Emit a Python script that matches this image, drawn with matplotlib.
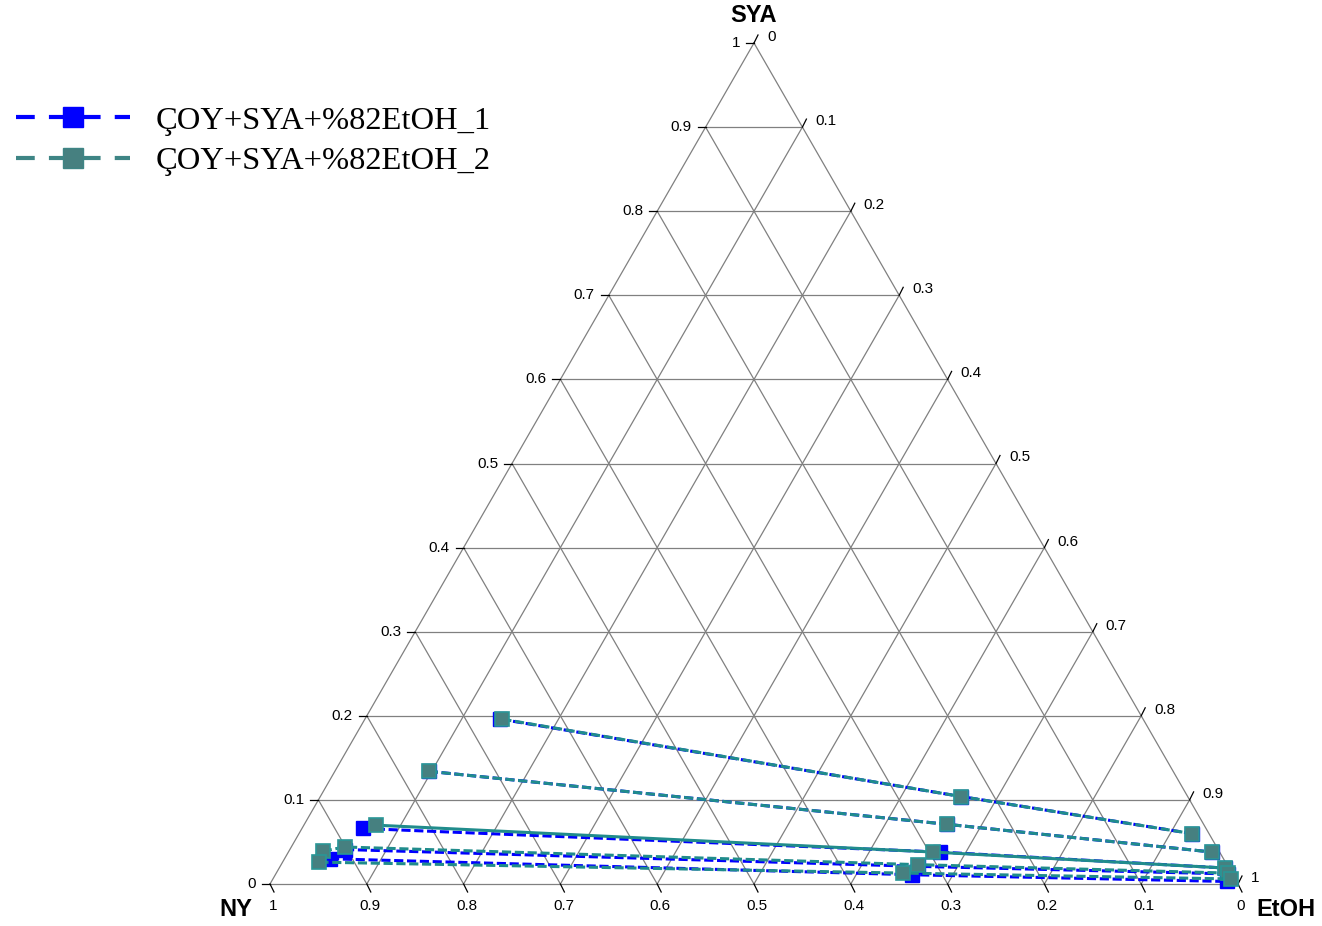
import numpy as np
import matplotlib
matplotlib.use('Agg')
import matplotlib.pyplot as plt
from matplotlib.lines import Line2D

# ---------------- data (mass fractions: NY, EtOH, SYA) ----------------
s1_ny = [[0.664, 0.234, 0.018],
         [0.769, 0.265, 0.008],
         [0.871, 0.289, 0.004],
         [0.902, 0.320, 0.004],
         [0.923, 0.331, 0.010]]
s1_etoh = [[0.140, 0.662, 0.922],
           [0.097, 0.664, 0.954],
           [0.063, 0.673, 0.977],
           [0.057, 0.659, 0.984],
           [0.047, 0.658, 0.987]]
s1_sya = [[0.196, 0.104, 0.060],
          [0.134, 0.071, 0.038],
          [0.066, 0.038, 0.019],
          [0.041, 0.021, 0.012],
          [0.030, 0.011, 0.003]]

s2_ny = [[0.662, 0.234, 0.018],
         [0.769, 0.265, 0.008],
         [0.856, 0.296, 0.004],
         [0.926, 0.901, 0.319, 0.004],
         [0.936, 0.340, 0.005]]
s2_etoh = [[0.142, 0.662, 0.922],
           [0.097, 0.664, 0.954],
           [0.074, 0.666, 0.977],
           [0.035, 0.055, 0.658, 0.983],
           [0.038, 0.647, 0.990]]
s2_sya = [[0.196, 0.104, 0.060],
          [0.134, 0.071, 0.038],
          [0.070, 0.038, 0.019],
          [0.039, 0.044, 0.023, 0.013],
          [0.026, 0.013, 0.006]]

series_labels = ['ÇOY+SYA+%82EtOH_1', 'ÇOY+SYA+%82EtOH_2']
tick_values = [round(0.1 * i, 1) for i in range(11)]
axis_names = ['SYA', 'NY', 'EtOH']

# ---------------- figure ----------------
W, H = 1322, 926
fig = plt.figure(figsize=(W / 100, H / 100), dpi=100)
ax = fig.add_axes([270 / W, 42 / H, 968 / W, 841 / H])
h = np.sqrt(3) / 2
ax.set_xlim(0, 1)
ax.set_ylim(0, h)
ax.axis('off')

px_x = 1 / 968.0
px_y = h / 841.0


def tern(ny, etoh, sya):
    ny, etoh, sya = map(np.asarray, (ny, etoh, sya))
    return etoh + sya / 2.0, sya * h


grid_c = '#808080'
# grid lines
for v in tick_values:
    x, y = tern([1 - v, 0], [0, 1 - v], [v, v])
    ax.plot(x, y, color=grid_c, lw=0.9, zorder=1, clip_on=False)
    x, y = tern([1 - v, 0], [v, v], [0, 1 - v])
    ax.plot(x, y, color=grid_c, lw=0.9, zorder=1, clip_on=False)
    x, y = tern([v, v], [1 - v, 0], [0, 1 - v])
    ax.plot(x, y, color=grid_c, lw=0.9, zorder=1, clip_on=False)

L = 8
tfs = 11
font = 'Liberation Sans'


def fmt(v):
    if v == 0:
        return '0'
    if v == 1:
        return '1'
    return f'{v:.1f}'


for v in tick_values:
    # left side: SYA
    x0, y0 = tern(1 - v, 0, v)
    ax.plot([x0, x0 - L * px_x], [y0, y0], color='black', lw=0.9, clip_on=False)
    ax.text(x0 - 14 * px_x, y0, fmt(v), ha='right', va='center', fontsize=tfs,
            family=font, clip_on=False)
    # bottom: NY
    x0, y0 = tern(v, 1 - v, 0)
    ax.plot([x0, x0 + 0.5 * L * px_x], [y0, y0 - L * px_y], color='black', lw=0.9, clip_on=False)
    ax.text(x0 + 3 * px_x, y0 - 22 * px_y, fmt(v), ha='center', va='center', fontsize=tfs,
            family=font, clip_on=False)
    # right: EtOH
    x0, y0 = tern(0, v, 1 - v)
    ax.plot([x0, x0 + 0.5 * L * px_x], [y0, y0 + L * px_y], color='black', lw=0.9, clip_on=False)
    ax.text(x0 + 13 * px_x, y0 + 6 * px_y, fmt(v), ha='left', va='center', fontsize=tfs,
            family=font, clip_on=False)

# axis titles
fig.text(754 / W, 1 - 15 / H, axis_names[0], ha='center', va='center', fontsize=17,
         fontweight='bold', family=font)
fig.text(236 / W, 1 - 910 / H, axis_names[1], ha='center', va='center', fontsize=17,
         fontweight='bold', family=font)
fig.text(1286 / W, 1 - 909 / H, axis_names[2], ha='center', va='center', fontsize=17,
         fontweight='bold', family=font)

# ---------------- series ----------------
blue = '#0000FF'
teal_line = '#208C8C'
teal_face = '#468080'
teal_edge = '#2A9696'

for ny, et, sy in zip(s1_ny, s1_etoh, s1_sya):
    x, y = tern(ny, et, sy)
    ax.plot(x, y, color=blue, lw=2.2, dashes=(3, 1.2), marker='s', ms=9.5,
            mfc=blue, mec=blue, mew=1, zorder=3, clip_on=False)

teal_styles = ['dashed', 'dashed', 'solid', 'dashed', 'dashed']
for (ny, et, sy), st in zip(zip(s2_ny, s2_etoh, s2_sya), teal_styles):
    x, y = tern(ny, et, sy)
    kw = dict(dashes=(3, 1.2)) if st == 'dashed' else dict(ls='-')
    ax.plot(x, y, color=teal_line, lw=2.2, marker='s', ms=9.5,
            mfc=teal_face, mec=teal_edge, mew=1.2, zorder=4, clip_on=False, **kw)

# ---------------- legend ----------------
handles = [
    Line2D([], [], color=blue, lw=3, dashes=(4.5, 3.4), marker='s', ms=15,
           mfc=blue, mec=blue),
    Line2D([], [], color='#3E8585', lw=3, dashes=(4.5, 3.4), marker='s', ms=15,
           mfc='#468080', mec='#3E8585'),
]
fig.legend(handles, series_labels, loc='upper left', bbox_to_anchor=(-10 / W, 1 - 80 / H),
           frameon=False, prop={'family': 'Liberation Serif', 'size': 23.4},
           handlelength=3.5, handletextpad=0.8, labelspacing=0.33, borderpad=0.3)

fig.savefig('out.png', dpi=100)
